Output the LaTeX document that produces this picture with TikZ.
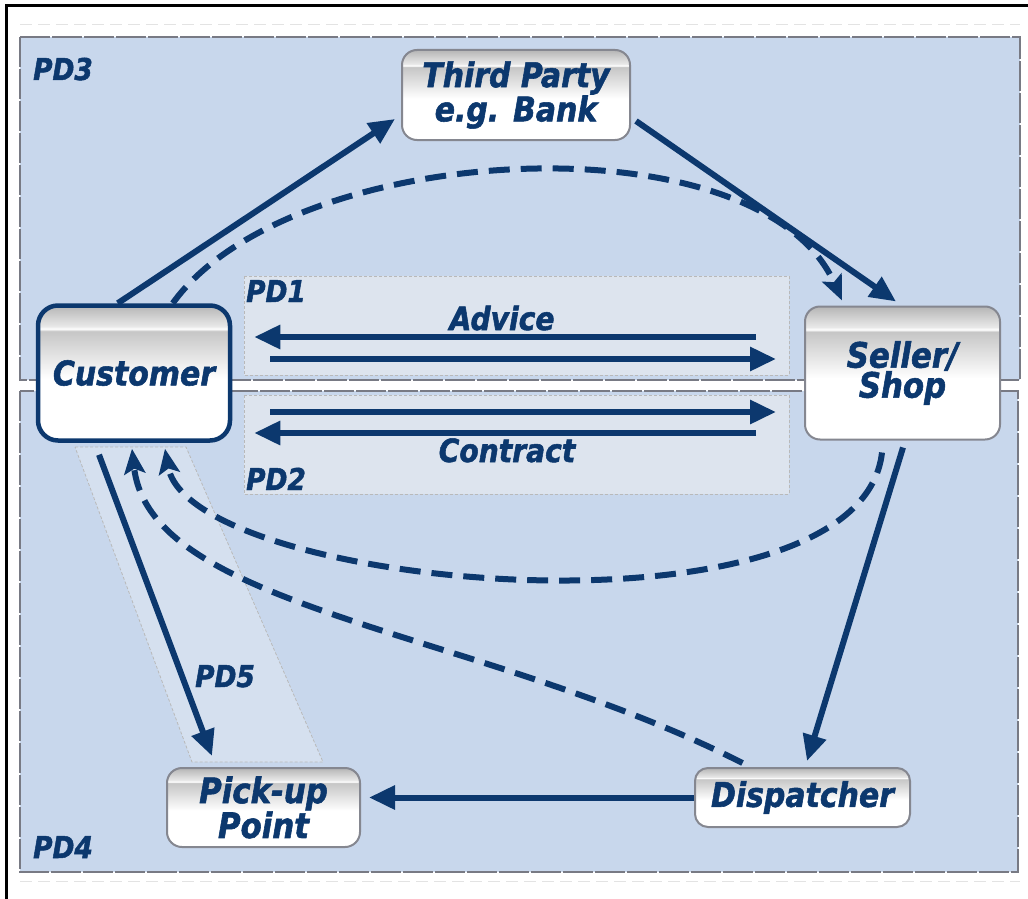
\documentclass[tikz,border=0pt]{standalone}
\usepackage{fontspec}
\newfontfamily\dgfont{DejaVu Sans}[FakeStretch=0.88, BoldItalicFeatures={FakeBold=1.6}]
\usetikzlibrary{arrows.meta,calc}

\definecolor{navy}{RGB}{12,56,110}
\definecolor{pdblue}{RGB}{200,215,236}
\definecolor{pdlight}{RGB}{221,228,238}
\definecolor{pdstrip}{RGB}{213,224,239}
\definecolor{rim}{RGB}{120,122,132}

% glossy fill of the role boxes: grey cap, thin highlight, white body
\pgfdeclareverticalshading{gloss}{100bp}{%
  color(0bp)=(white); color(48bp)=(white); color(65.5bp)=(gray!45);
  color(66.3bp)=(white); color(67.3bp)=(gray!18); color(75bp)=(gray!58);
  color(100bp)=(gray!58)}

\tikzset{
  role/.style={shading=gloss, draw=rim!90, line width=2pt, rounded corners=15pt,
    align=center, inner sep=0pt, text=navy,
    font=\dgfont\bfseries\itshape\fontsize{34pt}{28pt}\selectfont},
  mainrole/.style={role, draw=navy, line width=4.5pt, rounded corners=20pt},
  pdlabel/.style={anchor=base west, inner sep=0pt, text=navy,
    font=\dgfont\bfseries\itshape\fontsize{30pt}{30pt}\selectfont},
  flowlabel/.style={anchor=base, inner sep=0pt, text=navy,
    font=\dgfont\bfseries\itshape\fontsize{32pt}{32pt}\selectfont},
  region/.style={fill=pdblue, draw=rim, line width=1.5pt, dash pattern=on 30pt off 2pt},
  subregion/.style={draw=gray!55, line width=0.8pt, densely dashed},
  arr/.style={draw=navy, line width=6pt, -{Triangle[length=26pt,width=23pt]}},
  darr/.style={draw=navy, line width=6pt, dash pattern=on 21pt off 11pt,
    -{Stealth[length=25pt,width=21pt,inset=5pt]}},
  ghost/.style={draw=gray!22, line width=1pt, dash pattern=on 12pt off 6pt},
}

\begin{document}
\begin{tikzpicture}[x=1pt,y=-1pt]
% page
\fill[white] (0,0) rectangle (1028,899);
\useasboundingbox (0,0) rectangle (1028,899);
\draw[line width=3pt] (6.5,899) -- (6.5,5.5) -- (1028,5.5);

% faint outer rules
\draw[ghost] (20,25) -- (1020,25);
\draw[ghost] (20,881) -- (1020,881);

% protection domains
\draw[region] (20,37) rectangle (1020,380);
\draw[region] (20,391) rectangle (1018,872);
\fill[white] (20,381) rectangle (1020,390);
\draw[subregion, fill=pdlight] (244,276) rectangle (789,375);
\draw[subregion, fill=pdlight] (244,395) rectangle (789,494);
\draw[subregion, fill=pdstrip] (75,447) -- (186,447) -- (323,762) -- (192,762) -- cycle;

\node[pdlabel] (pd3) at (33,80) {PD3};
\node[pdlabel] (pd1) at (246,302) {PD1};
\node[pdlabel] (pd2) at (246,490) {PD2};
\node[pdlabel] (pd4) at (33,858) {PD4};
\node[pdlabel] (pd5) at (195,687) {PD5};

% parties
\node[mainrole, minimum width=192pt, minimum height=135pt] (cust) at (134,373) {Customer};
\node[role, minimum width=228pt, minimum height=90pt, font=\dgfont\bfseries\itshape\fontsize{34pt}{33pt}\selectfont] (tp) at (516,95) {Third Party\\e.g. Bank};
\node[role, minimum width=195pt, minimum height=133pt, font=\dgfont\bfseries\itshape\fontsize{35pt}{30pt}\selectfont] (seller) at (902.5,373) {Seller/\\Shop};
\node[role, minimum width=215pt, minimum height=59pt, rounded corners=13pt] (disp) at (802.5,797.5) {Dispatcher};
\node[role, minimum width=193pt, minimum height=79pt, font=\dgfont\bfseries\itshape\fontsize{35pt}{28pt}\selectfont] (pick) at (263.5,807.5) {Pick-up\\Point};

\node[flowlabel] (advice) at (502,330) {Advice};
\node[flowlabel] (contract) at (507,462) {Contract};

% payment route
\draw[arr] ($(cust.north west)+(82,0)$) -- ($(tp.north west)+(-6,70)$);
\draw[arr] ($(tp.north east)+(5,72)$) -- ($(seller.north west)+(92,-4)$);
\draw[darr] ($(cust.north west)+(137,0)$) .. controls (290,140) and (760,115) .. ($(seller.north west)+(38,-5)$);

% advice and contract
\draw[arr] ($(seller.west)+(-48,-36)$) -- ($(cust.east)+(22,-36)$);
\draw[arr] ($(cust.east)+(38,-14)$) -- ($(seller.west)+(-28,-14)$);
\draw[arr] ($(cust.east)+(38,39)$) -- ($(seller.west)+(-28,39)$);
\draw[arr] ($(seller.west)+(-48,60)$) -- ($(cust.east)+(22,60)$);

% delivery
\draw[arr] ($(seller.south)+(0.5,7)$) -- ($(disp.north)+(4.5,-6)$);
\draw[darr] ($(seller.south)+(-20.5,12)$) .. controls (860,650) and (190,590) .. ($(cust.south)+(31,6)$);
\draw[darr] ($(disp.north)+(-60,-4)$) .. controls (480,630) and (150,610) .. ($(cust.south)+(-2,6)$);
\draw[arr] (disp.west) -- ($(pick.east |- disp.west)+(8,0)$);
\draw[arr] ($(cust.south)+(-35,12)$) -- ($(pick.north)+(-51.5,-11)$);
\end{tikzpicture}
\end{document}
